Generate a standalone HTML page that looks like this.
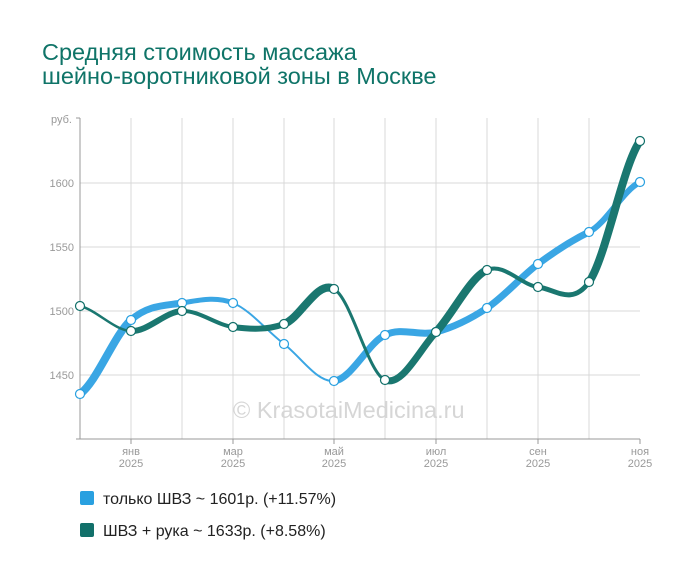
<!DOCTYPE html>
<html><head><meta charset="utf-8"><style>
body{margin:0;background:#fff;width:700px;height:582px;overflow:hidden}
svg{display:block;font-family:"Liberation Sans",sans-serif}
</style></head><body>
<svg width="700" height="582" viewBox="0 0 700 582">
<text x="42" y="60" font-size="23.5" fill="#0f7468">Средняя стоимость массажа</text>
<text x="42" y="84" font-size="23.5" fill="#0f7468">шейно-воротниковой зоны в Москве</text>
<g stroke="#d8d8d8" stroke-width="1">
<line x1="131" y1="118" x2="131" y2="439"/><line x1="182" y1="118" x2="182" y2="439"/>
<line x1="233" y1="118" x2="233" y2="439"/><line x1="284" y1="118" x2="284" y2="439"/>
<line x1="334" y1="118" x2="334" y2="439"/><line x1="385" y1="118" x2="385" y2="439"/>
<line x1="436" y1="118" x2="436" y2="439"/><line x1="487" y1="118" x2="487" y2="439"/>
<line x1="538" y1="118" x2="538" y2="439"/><line x1="589" y1="118" x2="589" y2="439"/>
<line x1="80" y1="183" x2="640" y2="183"/><line x1="80" y1="247" x2="640" y2="247"/>
<line x1="80" y1="311" x2="640" y2="311"/><line x1="80" y1="375" x2="640" y2="375"/>
</g>
<g stroke="#999" stroke-width="1">
<line x1="80" y1="118" x2="80" y2="439"/><line x1="76" y1="118" x2="80" y2="118"/>
<line x1="76" y1="439" x2="640" y2="439"/>
<line x1="131" y1="439" x2="131" y2="444"/><line x1="233" y1="439" x2="233" y2="444"/>
<line x1="334" y1="439" x2="334" y2="444"/><line x1="436" y1="439" x2="436" y2="444"/>
<line x1="538" y1="439" x2="538" y2="444"/><line x1="640" y1="439" x2="640" y2="444"/>
</g>
<g font-size="11" fill="#999" text-anchor="end">
<text x="72" y="123">руб.</text><text x="74" y="187">1600</text><text x="74" y="251">1550</text>
<text x="74" y="315">1500</text><text x="74" y="379">1450</text>
</g>
<g font-size="11" fill="#999" text-anchor="middle">
<text x="131" y="455">янв</text><text x="131" y="467">2025</text>
<text x="233" y="455">мар</text><text x="233" y="467">2025</text>
<text x="334" y="455">май</text><text x="334" y="467">2025</text>
<text x="436" y="455">июл</text><text x="436" y="467">2025</text>
<text x="538" y="455">сен</text><text x="538" y="467">2025</text>
<text x="640" y="455">ноя</text><text x="640" y="467">2025</text>
</g>
<text x="233" y="418" font-size="23.5" fill="#d6d6d6">© KrasotaiMedicina.ru</text>
<g fill="none" stroke="#3aa6e4" stroke-linecap="round">
<path stroke-width="8" d="M80 394 C97 381.7 114 335.2 131 320"/>
<path stroke-width="7" d="M131 320 C148 304.8 165 305.8 182 303"/>
<path stroke-width="5" d="M182 303 C199 300.2 216 296.2 233 303"/>
<path stroke-width="2" d="M233 303 C250 309.8 267 331 284 344"/>
<path stroke-width="2" d="M284 344 C301 357 317 382.5 334 381"/>
<path stroke-width="7" d="M334 381 C351 379.5 368 343.2 385 335"/>
<path stroke-width="7" d="M385 335 C402 326.8 419 336.5 436 332"/>
<path stroke-width="7" d="M436 332 C453 327.5 470 319.3 487 308"/>
<path stroke-width="7" d="M487 308 C504 296.7 521 276.7 538 264"/>
<path stroke-width="7" d="M538 264 C555 251.3 572 240.3 589 232"/>
<path stroke-width="6" d="M589 232 C606 223.7 623 190.3 640 182"/>
</g>
<g fill="none" stroke="#1a7770" stroke-linecap="round">
<path stroke-width="2.5" d="M80 306 C97 310.2 114 330.2 131 331"/>
<path stroke-width="6" d="M131 331 C148 331.8 165 311.7 182 311"/>
<path stroke-width="4" d="M182 311 C199 310.3 216 324.8 233 327"/>
<path stroke-width="6" d="M233 327 C250 329.2 267 330.3 284 324"/>
<path stroke-width="8" d="M284 324 C301 317.7 317 279.7 334 289"/>
<path stroke-width="3" d="M334 289 C351 298.3 368 372.8 385 380"/>
<path stroke-width="7" d="M385 380 C402 387.2 419 350.3 436 332"/>
<path stroke-width="8" d="M436 332 C453 313.7 470 277.5 487 270"/>
<path stroke-width="4" d="M487 270 C504 262.5 521 285 538 287"/>
<path stroke-width="5" d="M538 287 C555 289 572 306.3 589 282"/>
<path stroke-width="8" d="M589 282 C606 257.7 623 164.5 640 141"/>
</g>
<g fill="#fff" stroke="#29a0e0" stroke-width="1.2">
<circle cx="80" cy="394" r="4.5"/><circle cx="131" cy="320" r="4.5"/><circle cx="182" cy="303" r="4.5"/>
<circle cx="233" cy="303" r="4.5"/><circle cx="284" cy="344" r="4.5"/><circle cx="334" cy="381" r="4.5"/>
<circle cx="385" cy="335" r="4.5"/><circle cx="436" cy="332" r="4.5"/><circle cx="487" cy="308" r="4.5"/>
<circle cx="538" cy="264" r="4.5"/><circle cx="589" cy="232" r="4.5"/><circle cx="640" cy="182" r="4.5"/>
</g>
<g fill="#fff" stroke="#12706a" stroke-width="1.2">
<circle cx="80" cy="306" r="4.5"/><circle cx="131" cy="331" r="4.5"/><circle cx="182" cy="311" r="4.5"/>
<circle cx="233" cy="327" r="4.5"/><circle cx="284" cy="324" r="4.5"/><circle cx="334" cy="289" r="4.5"/>
<circle cx="385" cy="380" r="4.5"/><circle cx="436" cy="332" r="4.5"/><circle cx="487" cy="270" r="4.5"/>
<circle cx="538" cy="287" r="4.5"/><circle cx="589" cy="282" r="4.5"/><circle cx="640" cy="141" r="4.5"/>
</g>
<rect x="80" y="491" width="14" height="14" rx="2" fill="#29a0e0"/>
<rect x="80" y="523" width="14" height="14" rx="2" fill="#12706a"/>
<text x="103" y="504" font-size="16" fill="#222">только ШВЗ ~ 1601р. (+11.57%)</text>
<text x="103" y="536" font-size="16" fill="#222">ШВЗ + рука ~ 1633р. (+8.58%)</text>
</svg>
</body></html>
